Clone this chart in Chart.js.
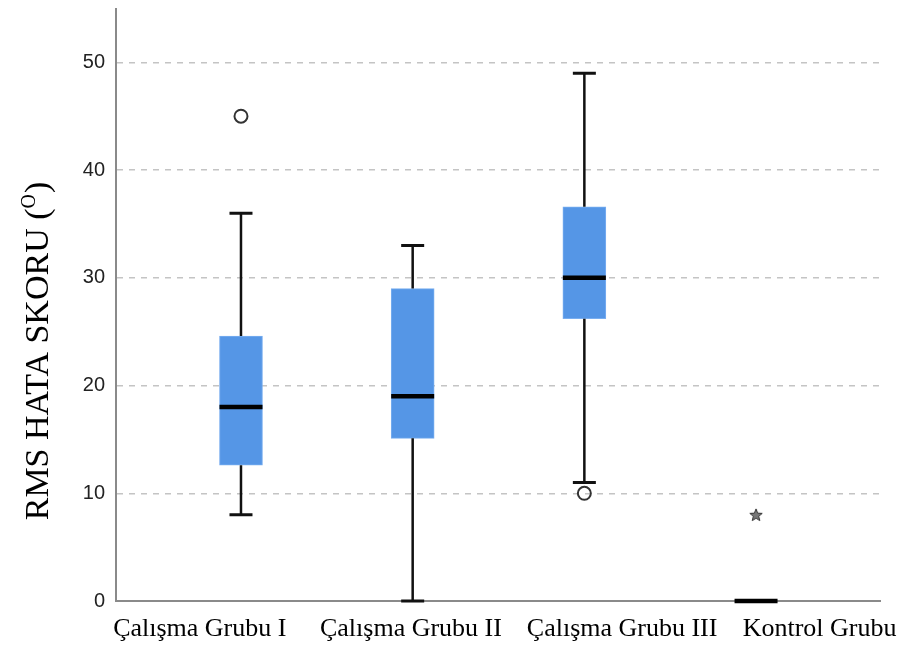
<!DOCTYPE html>
<html>
<head>
<meta charset="utf-8">
<script src="https://cdn.jsdelivr.net/npm/chart.js@4.4.1/dist/chart.umd.min.js"></script>
<style>
  html, body { margin: 0; padding: 0; background: #fff; }
  #wrap { width: 899px; height: 646px; position: relative; }
</style>
</head>
<body>
<div id="wrap"><canvas id="box-chart"></canvas></div>
<script>
// --- data ---
const categories = ['Çalışma Grubu I', 'Çalışma Grubu II', 'Çalışma Grubu III', 'Kontrol Grubu'];
const groupX = [1, 2, 3, 4];
const whiskerLow = [8, 0, 11, 0];
const q1 = [12.6, 15.1, 26.2, 0];
const median = [18, 19, 30, 0];
const q3 = [24.6, 29, 36.6, 0];
const whiskerHigh = [36, 33, 49, 0];
const circleOutliers = [{ x: 1, y: 45 }, { x: 3, y: 10 }];
const starOutliers = [{ x: 4, y: 8 }];
const yTicks = [0, 10, 20, 30, 40, 50];
// where the category names sit along the x axis (they are not centred under the boxes)
const labelAt = [0.76, 1.99, 3.22, 4.37];

const yTitle = 'RMS HATA SKORU (';
const yTitleSup = 'O';
const yTitleEnd = ')';

// small star for the extreme value
function makeStar() {
  const c = document.createElement('canvas');
  c.width = 14; c.height = 14;
  const g = c.getContext('2d');
  g.beginPath();
  for (let i = 0; i < 10; i++) {
    const r = i % 2 === 0 ? 6.5 : 2.8;
    const a = -Math.PI / 2 + i * Math.PI / 5;
    const px = 7 + r * Math.cos(a), py = 7.5 + r * Math.sin(a);
    if (i === 0) g.moveTo(px, py); else g.lineTo(px, py);
  }
  g.closePath();
  g.fillStyle = '#777';
  g.fill();
  g.strokeStyle = '#333';
  g.lineWidth = 1;
  g.stroke();
  return c;
}

// whiskers, caps and medians, drawn through the chart's scales
const boxParts = {
  id: 'boxParts',
  afterDatasetsDraw(chart) {
    const { ctx, scales: { x, y } } = chart;
    const boxHalf = 21.5, capHalf = 11.5;
    ctx.save();
    ctx.strokeStyle = '#111';
    groupX.forEach((gx, i) => {
      const cx = x.getPixelForValue(gx);
      const yLo = y.getPixelForValue(whiskerLow[i]);
      const yHi = y.getPixelForValue(whiskerHigh[i]);
      const yQ1 = y.getPixelForValue(q1[i]);
      const yQ3 = y.getPixelForValue(q3[i]);
      ctx.lineWidth = 2.5;
      ctx.beginPath();
      ctx.moveTo(cx, yQ3); ctx.lineTo(cx, yHi);
      ctx.moveTo(cx, yQ1); ctx.lineTo(cx, yLo);
      ctx.stroke();
      ctx.lineWidth = 3;
      ctx.beginPath();
      ctx.moveTo(cx - capHalf, yHi); ctx.lineTo(cx + capHalf, yHi);
      ctx.moveTo(cx - capHalf, yLo); ctx.lineTo(cx + capHalf, yLo);
      ctx.stroke();
      const yMed = y.getPixelForValue(median[i]);
      ctx.strokeStyle = '#000';
      ctx.lineWidth = 4.5;
      ctx.beginPath();
      ctx.moveTo(cx - boxHalf, yMed); ctx.lineTo(cx + boxHalf, yMed);
      ctx.stroke();
      ctx.strokeStyle = '#111';
    });
    ctx.restore();
  },
  afterDraw(chart) {
    const { ctx, chartArea } = chart;
    // the bottom "0" is half hidden under the label strip in the original
    ctx.save();
    ctx.fillStyle = '#fff';
    ctx.fillRect(60, chartArea.bottom + 6, 50, 12);
    ctx.restore();

    // y title with the superscript O
    const big = '34px "Liberation Serif", "Times New Roman", serif';
    const small = '20px "Liberation Serif", "Times New Roman", serif';
    ctx.save();
    ctx.font = big;
    const w1 = ctx.measureText(yTitle).width;
    const w3 = ctx.measureText(yTitleEnd).width;
    ctx.font = small;
    const w2 = ctx.measureText(yTitleSup).width + 1;
    const total = w1 + w2 + w3;
    ctx.translate(48, 351);
    ctx.rotate(-Math.PI / 2);
    ctx.fillStyle = '#000';
    ctx.textBaseline = 'alphabetic';
    ctx.textAlign = 'left';
    let tx = -total / 2;
    ctx.font = big;
    ctx.fillText(yTitle, tx, 0);
    tx += w1;
    ctx.font = small;
    ctx.fillText(yTitleSup, tx, -13);
    tx += w2;
    ctx.font = big;
    ctx.fillText(yTitleEnd, tx, 0);
    ctx.restore();
  }
};

const ctx = document.getElementById('box-chart');
new Chart(ctx, {
  data: {
    datasets: [
      {
        type: 'bar',
        data: groupX.map((gx, i) => ({ x: gx, y: [q1[i], q3[i]] })),
        backgroundColor: '#5596e6',
        borderColor: '#79aef0',
        borderWidth: 1,
        borderSkipped: false,
        barThickness: 43
      },
      {
        type: 'scatter',
        data: circleOutliers,
        pointStyle: 'circle',
        pointRadius: 6.5,
        backgroundColor: 'rgba(0,0,0,0)',
        borderColor: '#333',
        borderWidth: 2
      },
      {
        type: 'scatter',
        data: starOutliers,
        pointStyle: makeStar(),
        pointRadius: 7
      }
    ]
  },
  options: {
    responsive: true,
    maintainAspectRatio: false,
    animation: false,
    layout: { padding: { top: 1, right: 19, left: 0, bottom: 0 } },
    plugins: {
      legend: { display: false },
      tooltip: { enabled: false }
    },
    scales: {
      x: {
        type: 'linear',
        offset: false,
        min: 0.272,
        max: 4.722,
        afterBuildTicks: (scale) => { scale.ticks = labelAt.map(v => ({ value: v })); },
        afterFit: (scale) => { scale.height = 45; scale.paddingLeft = 0; scale.paddingRight = 0; },
        ticks: {
          autoSkip: false,
          maxRotation: 0,
          padding: 5,
          color: '#000',
          font: { family: '"Liberation Serif", "Times New Roman", serif', size: 26 },
          callback: (v, i) => categories[i]
        },
        grid: { display: false, offset: false },
        border: { display: true, color: '#8a8a8a', width: 2 }
      },
      y: {
        min: 0,
        max: 55.0,
        afterBuildTicks: (scale) => { scale.ticks = yTicks.map(v => ({ value: v })); },
        afterFit: (scale) => { scale.width = 116; scale.paddingTop = 0; scale.paddingBottom = 0; },
        ticks: {
          padding: 11,
          color: '#222',
          font: { family: '"Liberation Sans", Arial, sans-serif', size: 20 }
        },
        grid: {
          drawTicks: false,
          color: (c) => c.tick.value === 0 ? 'rgba(0,0,0,0)' : '#c4c4c4',
          lineWidth: 1.5
        },
        border: { display: true, color: '#8a8a8a', width: 2, dash: [6, 6] }
      }
    }
  },
  plugins: [boxParts]
});
</script>
</body>
</html>
